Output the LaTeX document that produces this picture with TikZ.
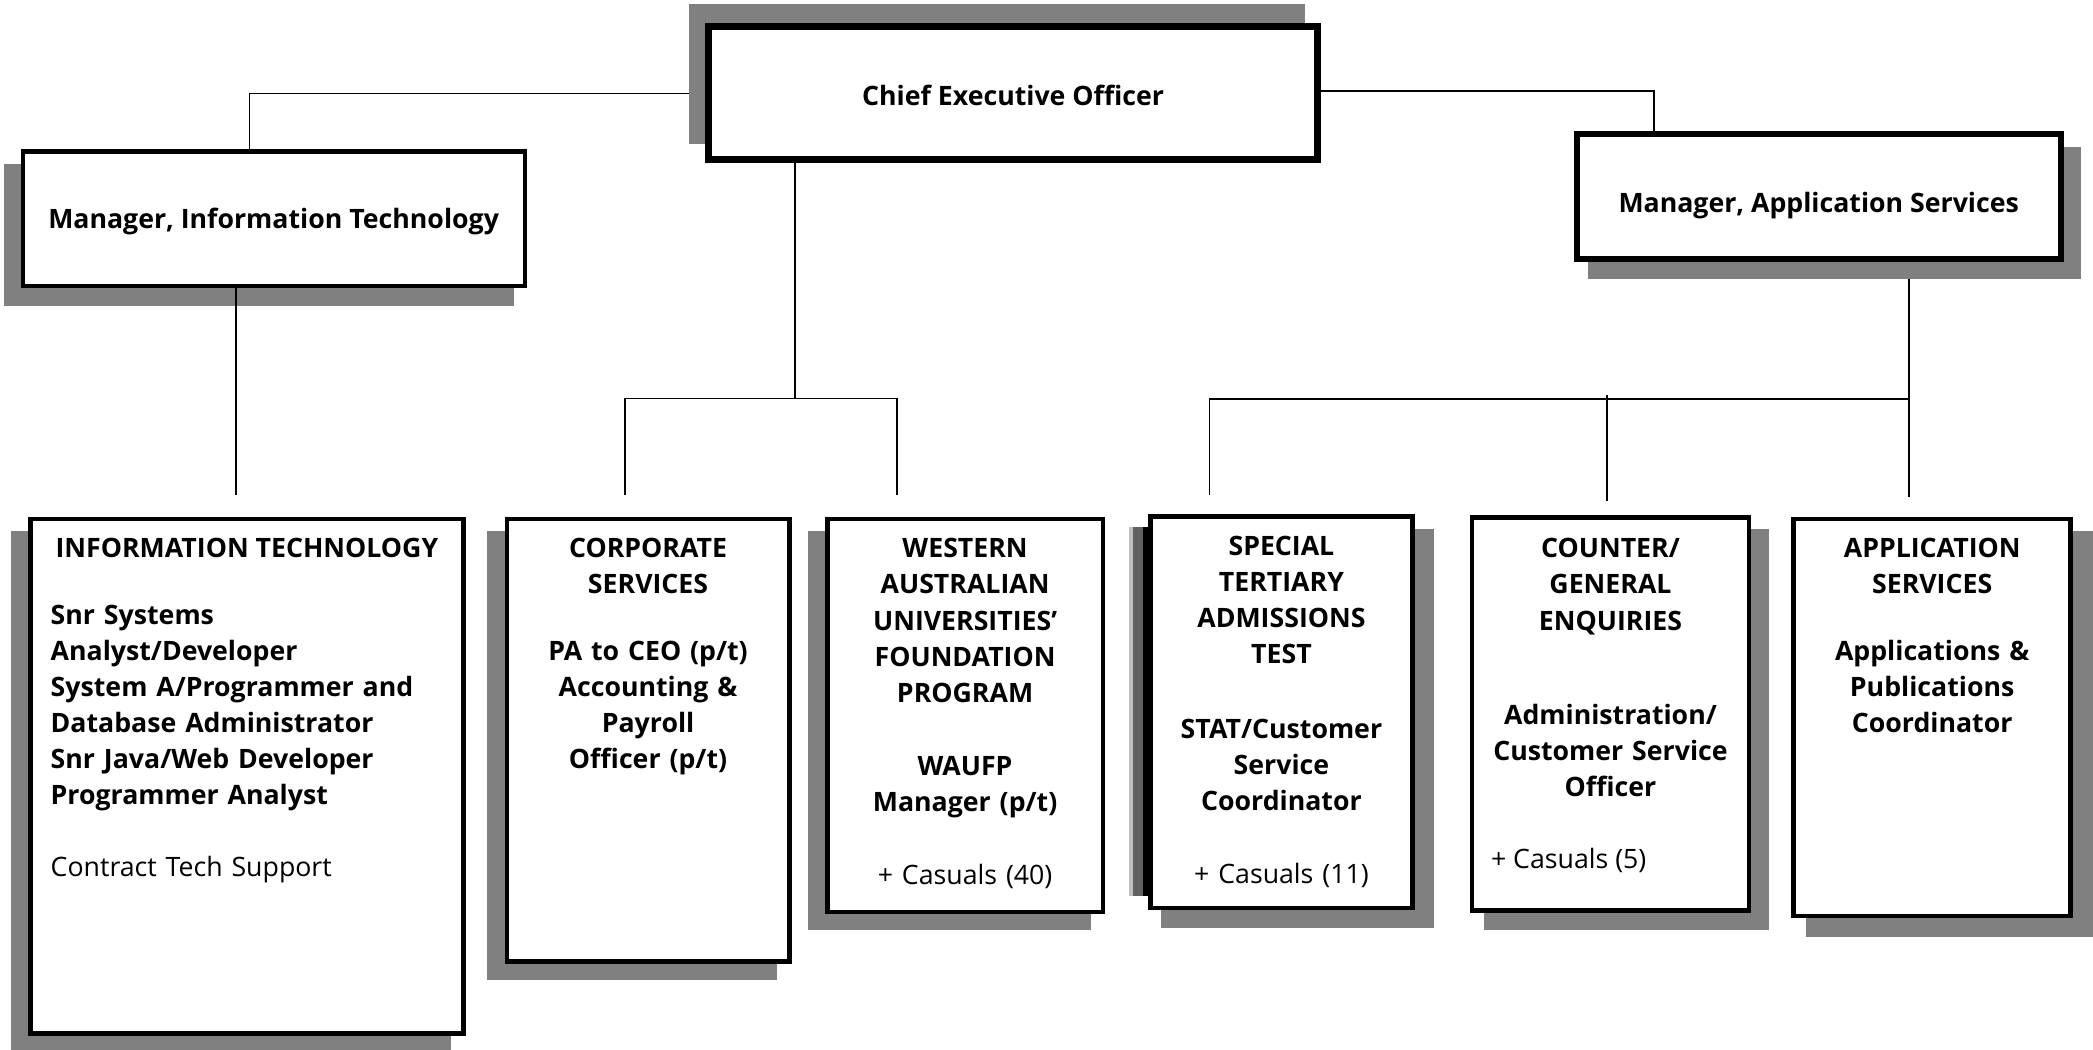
\documentclass[tikz,border=0pt]{standalone}
\usepackage{fontspec}
\setmainfont{Open Sans}
\definecolor{shadowgray}{RGB}{128,128,128}
\begin{document}
\begin{tikzpicture}[x=1pt,y=-1pt,
  shadowbox/.style={fill=shadowgray,draw=none,inner sep=0pt,outer sep=0pt,anchor=north west},
  orgbox/.style={draw=black,fill=white,inner sep=0pt,outer sep=0pt,anchor=north west},
  conn/.style={draw=black,line width=1.2pt},
  lbl/.style={font=\fontsize{20}{27}\selectfont\bfseries,inner sep=0pt,outer sep=0pt},
  blk/.style={lbl,text width=300pt,align=center,anchor=base},
  blkl/.style={lbl,text width=320pt,align=left,anchor=base west}]
\useasboundingbox (0,0) rectangle (1568,786);
% shadows
\node[shadowbox,minimum width=462pt,minimum height=105pt] (ceoS) at (516,3) {};
\node[shadowbox,minimum width=382pt,minimum height=106.5pt] (mitS) at (3,123) {};
\node[shadowbox,minimum width=369pt,minimum height=99pt] (masS) at (1190,110) {};
\node[shadowbox,minimum width=330pt,minimum height=392pt] (itS) at (8,398) {};
\node[shadowbox,minimum width=217pt,minimum height=336pt] (corpS) at (365,398) {};
\node[shadowbox,minimum width=212pt,minimum height=299pt] (wauS) at (605,398) {};
\node[shadowbox,minimum width=204pt,minimum height=299pt] (statS) at (870,396) {};
\node[shadowbox,fill=black!25,minimum width=14pt,minimum height=276pt] (statS2) at (846,395) {};
\node[shadowbox,fill=black!62,minimum width=9pt,minimum height=276pt] (statS3) at (849,395) {};
\node[shadowbox,fill=black,minimum width=4pt,minimum height=276pt] (statS4) at (856,395) {};
\node[shadowbox,minimum width=213pt,minimum height=301pt] (cntS) at (1112,396) {};
\node[shadowbox,minimum width=222pt,minimum height=304pt] (appS) at (1353,398) {};
% boxes
\node[orgbox,line width=5.5pt,minimum width=456.5pt,minimum height=99.5pt] (ceo) at (530.75,19.75) {};
\node[orgbox,line width=3pt,minimum width=376pt,minimum height=101pt] (mit) at (17.5,113.5) {};
\node[orgbox,line width=4.5pt,minimum width=362.5pt,minimum height=93.5pt] (mas) at (1181.25,100.25) {};
\node[orgbox,line width=3.5pt,minimum width=324.5pt,minimum height=385.5pt] (it) at (22.75,388.75) {};
\node[orgbox,line width=3.5pt,minimum width=211.5pt,minimum height=331.5pt] (corp) at (379.75,388.75) {};
\node[orgbox,line width=3.5pt,minimum width=206.5pt,minimum height=294.5pt] (wau) at (619.75,388.75) {};
\node[orgbox,line width=3.5pt,minimum width=196.5pt,minimum height=293.5pt] (stat) at (861.75,386.75) {};
\node[orgbox,line width=3.5pt,minimum width=207.5pt,minimum height=294.5pt] (cnt) at (1102.75,387.75) {};
\node[orgbox,line width=3.5pt,minimum width=207.5pt,minimum height=297.5pt] (app) at (1343.75,388.75) {};
% texts
\node[lbl,anchor=base] (ceoT) at (759,79) {Chief Executive Officer};
\node[lbl,anchor=base] (mitT) at (205,171) {Manager, Information Technology};
\node[lbl,anchor=base] (masT) at (1362.5,159) {Manager, Application Services};
\node[lbl,anchor=base] (itT) at (185,418) {INFORMATION TECHNOLOGY};
\node[blkl] (itB) at (38,467.5) {Snr Systems\\Analyst/Developer\\System A/Programmer and\\Database Administrator\\Snr Java/Web Developer\\Programmer Analyst\\[27pt]{\mdseries Contract Tech Support}};
\node[blk] (corpT) at (485.5,418) {CORPORATE\\SERVICES\\[23pt]PA to CEO (p/t)\\Accounting \&\\Payroll\\Officer (p/t)};
\node[blk] (wauT) at (723,418) {WESTERN\\AUSTRALIAN\\UNIVERSITIES’\\FOUNDATION\\PROGRAM\\[28pt]WAUFP\\Manager (p/t)\\[28pt]{\mdseries + Casuals (40)}};
\node[blk] (statT) at (960,416) {SPECIAL\\TERTIARY\\ADMISSIONS\\TEST\\[29pt]STAT/Customer\\Service\\Coordinator\\[28pt]{\mdseries + Casuals (11)}};
\node[blk] (cntT) at (1206.5,418) {COUNTER/\\GENERAL\\ENQUIRIES\\[44pt]Administration/\\Customer Service\\Officer};
\node[lbl,font=\fontsize{20}{27}\selectfont,anchor=base west] (cntC) at (1117,651) {+ Casuals (5)};
\node[blk] (appT) at (1447.5,418) {APPLICATION\\SERVICES\\[23pt]Applications \&\\Publications\\Coordinator};
% connectors
\coordinate (h1) at (187,70);
\draw[conn] (ceoS.west |- h1) -- (h1) -- (h1 |- mit.north);
\coordinate (h2) at (1239,68);
\draw[conn] (ceo.east |- h2) -- (h2) -- (h2 |- mas.north);
\coordinate (j1) at (595.5,298.5);
\coordinate (c1) at (468,298.5);
\coordinate (c2) at (672,298.5);
\coordinate (c1e) at (468,371);
\coordinate (c2e) at (672,371);
\draw[conn] (ceo.south -| j1) -- (j1);
\draw[conn] (c1e) -- (c1) -- (c2) -- (c2e);
\coordinate (ite) at (177,371);
\draw[conn] (mit.south -| ite) -- (ite);
\coordinate (j2) at (1430,299);
\coordinate (a3e) at (1430,372);
\coordinate (a1) at (906,299);
\coordinate (a1e) at (906,371);
\coordinate (a2t) at (1204,296);
\coordinate (a2e) at (1204,375);
\draw[conn] (masS.south -| j2) -- (a3e);
\draw[conn] (a1e) -- (a1) -- (j2);
\draw[conn] (a2t) -- (a2e);
\end{tikzpicture}
\end{document}
